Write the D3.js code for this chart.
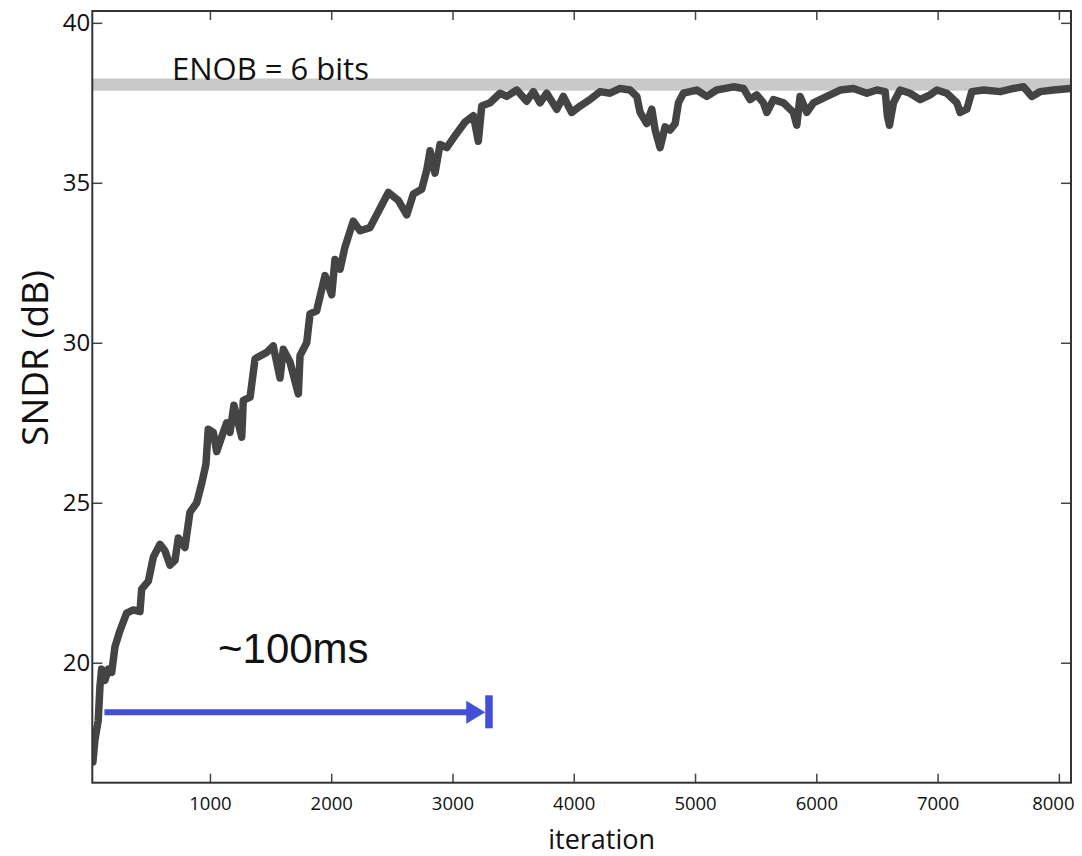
<!DOCTYPE html>
<html>
<head>
<meta charset="utf-8">
<script src="https://cdn.jsdelivr.net/npm/d3@7"></script>
<style>
  body { margin: 0; background: #fff; }
  text { font-family: "Open Sans", "DejaVu Sans", sans-serif; fill: #111; }
</style>
</head>
<body>
<div id="vizDiv"></div>
<script>
var width = 1082
var height = 856

// SNDR vs iteration
var iterations = [
  35, 52, 79, 93, 107, 134, 162, 190, 217, 258,
  313, 368, 423, 437, 492, 533, 588, 629, 671, 712,
  739, 794, 835, 891, 932, 967, 986, 1028, 1056, 1110,
  1138, 1165, 1198, 1262, 1275, 1331, 1372, 1468, 1522, 1578,
  1605, 1660, 1729, 1743, 1798, 1825, 1880, 1908, 1949, 2004,
  2031, 2073, 2114, 2182, 2238, 2320, 2375, 2471, 2553, 2623,
  2677, 2746, 2788, 2815, 2856, 2897, 2953, 3007, 3104, 3172,
  3213, 3241, 3310, 3392, 3447, 3530, 3612, 3667, 3722, 3777,
  3860, 3914, 3983, 4052, 4133, 4217, 4299, 4382, 4464, 4520,
  4547, 4602, 4643, 4671, 4712, 4753, 4794, 4836, 4863, 4904,
  5014, 5097, 5179, 5316, 5399, 5454, 5509, 5564, 5592, 5646,
  5729, 5811, 5839, 5866, 5922, 5976, 6087, 6197, 6306, 6417,
  6499, 6568, 6586, 6603, 6636, 6691, 6773, 6856, 6938, 6994,
  7076, 7159, 7186, 7241, 7282, 7378, 7516, 7626, 7708, 7777,
  7846, 7955, 8093
]
var sndr = [
  16.9, 17.6, 18.2, 19.25, 19.8, 19.45, 19.8, 19.7, 20.5, 21.0,
  21.55, 21.65, 21.6, 22.3, 22.55, 23.3, 23.7, 23.5, 23.05, 23.2,
  23.9, 23.6, 24.7, 25.0, 25.6, 26.2, 27.3, 27.2, 26.6, 27.2,
  27.5, 27.2, 28.05, 27.05, 28.2, 28.3, 29.5, 29.7, 29.9, 28.9,
  29.8, 29.4, 28.4, 29.6, 30.0, 30.9, 31.0, 31.45, 32.1, 31.5,
  32.6, 32.3, 33.0, 33.8, 33.5, 33.6, 34.0, 34.7, 34.45, 34.0,
  34.65, 34.8, 35.4, 36.0, 35.3, 36.2, 36.1, 36.4, 36.9, 37.1,
  36.3, 37.4, 37.5, 37.8, 37.7, 37.9, 37.55, 37.85, 37.5, 37.8,
  37.3, 37.7, 37.2, 37.4, 37.6, 37.85, 37.8, 37.95, 37.9, 37.7,
  37.2, 36.85, 37.3, 36.65, 36.1, 36.75, 36.65, 36.85, 37.5, 37.8,
  37.9, 37.7, 37.9, 38.0, 37.95, 37.6, 37.75, 37.5, 37.2, 37.6,
  37.5, 37.2, 36.8, 37.7, 37.2, 37.5, 37.7, 37.9, 37.95, 37.8,
  37.9, 37.85, 37.1, 36.8, 37.5, 37.9, 37.8, 37.6, 37.75, 37.9,
  37.8, 37.5, 37.2, 37.3, 37.85, 37.9, 37.85, 37.95, 38.0, 37.7,
  37.85, 37.9, 37.95
]

var xTicks = [1000, 2000, 3000, 4000, 5000, 6000, 7000, 8000]
var yTicks = [20, 25, 30, 35, 40]

// ENOB = 6 bits band and the ~100ms marker
var enobBand = [37.88, 38.26]
var enobLabel = "ENOB = 6 bits"
var timeSpan = [130, 3270]
var timeSpanLevel = 18.45
var timeLabel = "~100ms"

var plotLeft = 92.3
var plotRight = 1071
var plotTop = 11
var plotBottom = 782.7

var x = d3.scaleLinear().domain([30, 8100]).range([plotLeft, plotRight])
var y = d3.scaleLinear().domain([16.25, 40.37]).range([plotBottom, plotTop])

var svg = d3.select("#vizDiv")
  .append("svg")
  .attr("width", width)
  .attr("height", height)

svg.append("defs").append("clipPath")
  .attr("id", "plotClip")
  .append("rect")
  .attr("x", plotLeft)
  .attr("y", plotTop)
  .attr("width", plotRight - plotLeft)
  .attr("height", plotBottom - plotTop)

// grey target band
svg.append("rect")
  .attr("x", plotLeft)
  .attr("y", y(enobBand[1]))
  .attr("width", plotRight - plotLeft)
  .attr("height", y(enobBand[0]) - y(enobBand[1]))
  .attr("fill", "#c9c9c9")

svg.append("text")
  .attr("x", 172)
  .attr("y", 80)
  .style("font-size", "31px")
  .text(enobLabel)

// the SNDR trace
var points = iterations.map(function(d, i) { return [d, sndr[i]] })
var line = d3.line()
  .x(function(d) { return x(d[0]) })
  .y(function(d) { return y(d[1]) })

svg.append("path")
  .attr("d", line(points))
  .attr("clip-path", "url(#plotClip)")
  .attr("fill", "none")
  .attr("stroke", "#444444")
  .attr("stroke-width", 7.5)
  .attr("stroke-linejoin", "round")
  .attr("stroke-linecap", "round")

// axes: bottom/left with labels, top/right bare, all ticks inward
svg.append("g")
  .attr("transform", "translate(0," + plotBottom + ")")
  .call(d3.axisBottom(x).tickValues(xTicks).tickFormat(d3.format("d"))
    .tickSizeInner(-9).tickSizeOuter(0).tickPadding(14))
  .call(function(g) {
    g.selectAll("text").style("font-size", "18.5px").attr("fill", "#111")
    g.selectAll(".tick:last-of-type text").attr("dx", -6)
  })

svg.append("g")
  .attr("transform", "translate(0," + plotTop + ")")
  .call(d3.axisTop(x).tickValues(xTicks).tickSizeInner(-9).tickSizeOuter(0).tickFormat(""))

svg.append("g")
  .attr("transform", "translate(" + plotLeft + ",0)")
  .call(d3.axisLeft(y).tickValues(yTicks).tickSizeInner(-10).tickSizeOuter(0).tickPadding(2))
  .call(function(g) {
    g.selectAll("text").style("font-size", "24px").attr("fill", "#111")
  })

svg.append("g")
  .attr("transform", "translate(" + plotRight + ",0)")
  .call(d3.axisRight(y).tickValues(yTicks).tickSizeInner(-10).tickSizeOuter(0).tickFormat(""))

svg.selectAll(".domain").remove()
svg.selectAll(".tick line").attr("stroke", "#444").attr("stroke-width", 1.5)

svg.append("rect")
  .attr("x", plotLeft)
  .attr("y", plotTop)
  .attr("width", plotRight - plotLeft)
  .attr("height", plotBottom - plotTop)
  .attr("fill", "none")
  .attr("stroke", "#333")
  .attr("stroke-width", 2)

svg.append("text")
  .attr("x", (plotLeft + plotRight) / 2 + 20)
  .attr("y", 849)
  .attr("text-anchor", "middle")
  .style("font-size", "27px")
  .text("iteration")

svg.append("text")
  .attr("transform", "translate(48,358) rotate(-90)")
  .attr("text-anchor", "middle")
  .style("font-size", "37px")
  .text("SNDR (dB)")

// ~100ms arrow
var blue = "#434fd6"
var ay = y(timeSpanLevel)
var tipX = x(timeSpan[1])
svg.append("line")
  .attr("x1", x(timeSpan[0]))
  .attr("x2", tipX - 12)
  .attr("y1", ay)
  .attr("y2", ay)
  .attr("stroke", blue)
  .attr("stroke-width", 6)

svg.append("path")
  .attr("d", d3.line()([[tipX - 19, ay - 11.5], [tipX, ay], [tipX - 19, ay + 11.5]]) + "Z")
  .attr("fill", blue)

svg.append("rect")
  .attr("x", tipX)
  .attr("y", ay - 17)
  .attr("width", 7.5)
  .attr("height", 33)
  .attr("fill", blue)

svg.append("text")
  .attr("x", 218)
  .attr("y", 663)
  .style("font-family", "'Liberation Sans', Arial, sans-serif")
  .style("font-size", "42px")
  .attr("fill", "#000")
  .text(timeLabel)
</script>
</body>
</html>
